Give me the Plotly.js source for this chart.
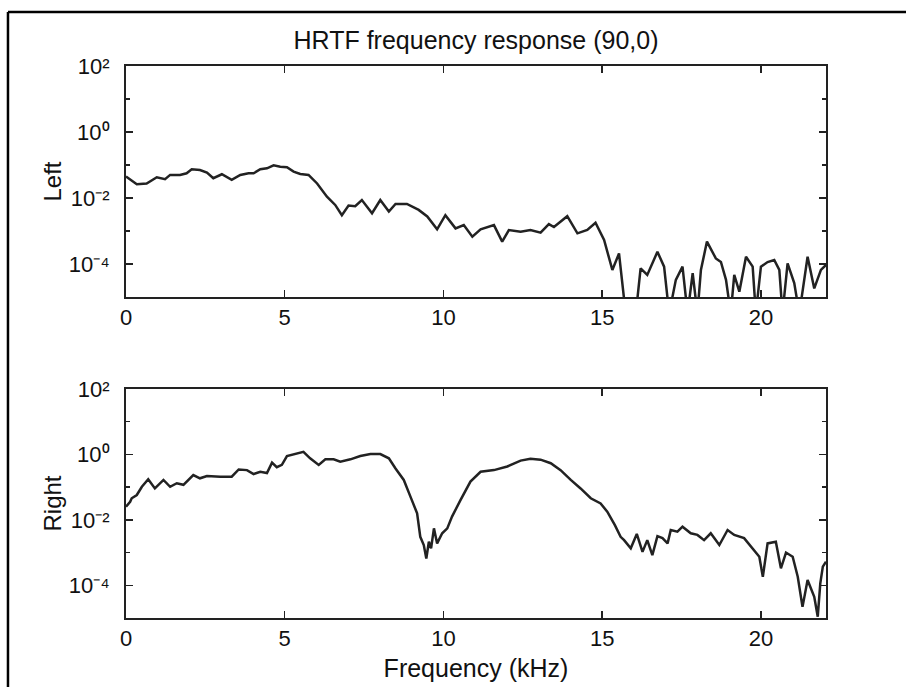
<!DOCTYPE html>
<html>
<head>
<meta charset="utf-8">
<script src="https://cdn.plot.ly/plotly-3.0.1.min.js"></script>
<style>html,body{margin:0;padding:0;background:#fff;}#chart{width:906px;height:687px;}</style>
</head>
<body>
<div id="chart"></div>
<script>
// Frequencies in kHz and magnitudes as log10 values
var freqLeft = [0.00,0.34,0.65,0.97,1.23,1.39,1.70,1.91,2.07,2.33,2.55,2.75,3.02,3.33,3.60,3.86,4.02,4.23,4.44,4.65,4.86,5.07,5.28,5.49,5.75,6.02,6.33,6.59,6.80,7.01,7.22,7.43,7.75,8.01,8.28,8.49,8.85,9.22,9.49,9.80,10.06,10.38,10.64,10.91,11.17,11.59,11.85,12.06,12.43,12.74,13.06,13.32,13.48,13.90,14.22,14.53,14.79,15.06,15.32,15.53,15.74,16.06,16.21,16.42,16.74,16.95,17.11,17.32,17.53,17.69,17.85,18.00,18.11,18.30,18.58,18.74,18.90,19.05,19.16,19.32,19.53,19.74,19.84,20.00,20.21,20.42,20.58,20.68,20.84,21.05,21.21,21.47,21.68,21.89,22.05];
var logMagLeft = [-1.35,-1.58,-1.56,-1.37,-1.43,-1.30,-1.30,-1.25,-1.13,-1.15,-1.23,-1.40,-1.28,-1.45,-1.30,-1.25,-1.25,-1.13,-1.10,-1.01,-1.05,-1.07,-1.20,-1.27,-1.30,-1.56,-1.96,-2.21,-2.52,-2.23,-2.25,-2.06,-2.46,-2.06,-2.41,-2.18,-2.18,-2.36,-2.56,-2.95,-2.52,-2.92,-2.82,-3.17,-2.95,-2.82,-3.32,-2.97,-3.02,-2.97,-3.05,-2.79,-2.88,-2.55,-3.07,-2.97,-2.75,-3.27,-4.18,-3.68,-5.5,-5.5,-4.13,-4.33,-3.63,-4.08,-5.5,-4.48,-4.08,-5.5,-4.28,-5.5,-4.18,-3.32,-3.83,-3.94,-4.48,-5.5,-4.33,-4.84,-3.78,-4.08,-5.5,-4.08,-3.94,-3.88,-4.18,-5.5,-3.98,-4.58,-5.5,-3.78,-4.74,-4.18,-4.03];

var freqRight = [0.00,0.13,0.18,0.34,0.50,0.70,0.91,1.18,1.39,1.60,1.81,2.12,2.33,2.55,2.97,3.33,3.55,3.81,4.02,4.23,4.44,4.60,4.75,4.91,5.07,5.28,5.59,5.80,6.07,6.28,6.54,6.75,7.07,7.38,7.70,8.01,8.28,8.49,8.75,8.96,9.17,9.27,9.38,9.46,9.54,9.61,9.70,9.80,9.96,10.12,10.27,10.54,10.85,11.17,11.59,12.01,12.43,12.74,13.06,13.38,13.69,14.01,14.32,14.64,14.95,15.16,15.40,15.58,15.69,15.90,16.09,16.27,16.42,16.58,16.74,16.90,17.06,17.16,17.37,17.53,17.79,18.00,18.21,18.42,18.69,18.95,19.16,19.47,19.79,19.95,20.06,20.21,20.47,20.63,20.79,21.00,21.16,21.31,21.47,21.68,21.79,21.87,21.95,22.05];
var logMagRight = [-1.60,-1.45,-1.34,-1.24,-0.99,-0.76,-1.04,-0.78,-0.99,-0.88,-0.93,-0.63,-0.73,-0.66,-0.68,-0.68,-0.46,-0.48,-0.60,-0.53,-0.57,-0.25,-0.39,-0.32,-0.05,0.01,0.08,-0.12,-0.32,-0.15,-0.15,-0.22,-0.15,-0.05,0.01,0.01,-0.12,-0.43,-0.78,-1.29,-1.80,-2.52,-2.77,-3.18,-2.67,-2.87,-2.26,-2.72,-2.41,-2.26,-1.90,-1.39,-0.83,-0.53,-0.48,-0.37,-0.19,-0.13,-0.16,-0.27,-0.48,-0.78,-1.04,-1.34,-1.50,-1.75,-2.16,-2.52,-2.62,-2.87,-2.43,-2.98,-2.62,-3.08,-2.50,-2.56,-2.72,-2.31,-2.36,-2.21,-2.41,-2.46,-2.62,-2.41,-2.77,-2.31,-2.46,-2.56,-2.92,-3.13,-3.74,-2.72,-2.67,-3.48,-3.00,-3.13,-3.74,-4.66,-3.84,-4.35,-4.96,-3.94,-3.43,-3.28];

var xTickVals = [0, 5, 10, 15, 20];
var yTickVals = [1e-4, 1e-2, 1, 100];
var yTickText = ['10\u207B\u2074', '10\u207B\u00B2', '10\u2070', '10\u00B2'];
var yMinorVals = [1e-5, 1e-3, 1e-1, 10];

function toLinear(arr) { return arr.map(function (v) { return Math.pow(10, v); }); }

var ink = '#222222';
var fontFam = 'Liberation Sans, Arial, Helvetica, sans-serif';

var traces = [
  { x: freqLeft, y: toLinear(logMagLeft), xaxis: 'x', yaxis: 'y', type: 'scatter', mode: 'lines',
    line: { color: ink, width: 2.5 }, hoverinfo: 'skip' },
  { x: freqRight, y: toLinear(logMagRight), xaxis: 'x2', yaxis: 'y2', type: 'scatter', mode: 'lines',
    line: { color: ink, width: 2.5 }, hoverinfo: 'skip' }
];

function xAx(anchor, title) {
  var a = {
    anchor: anchor, domain: [0, 1], range: [0, 22.05],
    tickmode: 'array', tickvals: xTickVals, ticks: 'inside', ticklen: 7, tickwidth: 1.5, tickcolor: ink,
    mirror: 'allticks', showline: true, linewidth: 2, linecolor: ink,
    showgrid: false, zeroline: false, tickfont: { family: fontFam, size: 22, color: '#111' }
  };
  if (title) a.title = { text: title, font: { family: fontFam, size: 25, color: '#111' }, standoff: 9 };
  return a;
}
function yAx(anchor, domain, title) {
  return {
    anchor: anchor, domain: domain, type: 'log', range: [-5, 2],
    tickmode: 'array', tickvals: yTickVals, ticktext: yTickText,
    ticks: 'inside', ticklen: 7, tickwidth: 1.5, tickcolor: ink,
    minor: { tickmode: 'array', tickvals: yMinorVals, ticks: 'inside', ticklen: 4, tickwidth: 1.5, tickcolor: ink, showgrid: false },
    mirror: 'allticks', showline: true, linewidth: 2, linecolor: ink, ticklabelstandoff: 10,
    showgrid: false, zeroline: false, tickfont: { family: fontFam, size: 22, color: '#111' },
    title: { text: title, font: { family: fontFam, size: 24, color: '#111' }, standoff: 0 }
  };
}

var layout = {
  width: 906, height: 687,
  margin: { l: 126, r: 80, t: 66, b: 69 },
  paper_bgcolor: '#ffffff', plot_bgcolor: '#ffffff',
  showlegend: false,
  title: { text: 'HRTF frequency response (90,0)', font: { family: fontFam, size: 25, color: '#111' },
           x: 0.5, xref: 'paper', xanchor: 'center', y: 1 - 40 / 687, yref: 'container', yanchor: 'middle' },
  xaxis: xAx('y', null),
  yaxis: yAx('x', [0.5815, 1], 'Left'),
  xaxis2: xAx('y2', 'Frequency (kHz)'),
  yaxis2: yAx('x2', [0, 0.4149], 'Right'),
  shapes: [
    { type: 'line', xref: 'paper', yref: 'paper', x0: -0.1686, x1: 1.2, y0: 1.0978, y1: 1.0978, line: { color: '#000', width: 2.5 } },
    { type: 'line', xref: 'paper', yref: 'paper', x0: -0.1686, x1: -0.1686, y0: 1.0978, y1: -0.2, line: { color: '#000', width: 2.5 } }
  ]
};

Plotly.newPlot('chart', traces, layout, { staticPlot: true, displayModeBar: false });
</script>
</body>
</html>
